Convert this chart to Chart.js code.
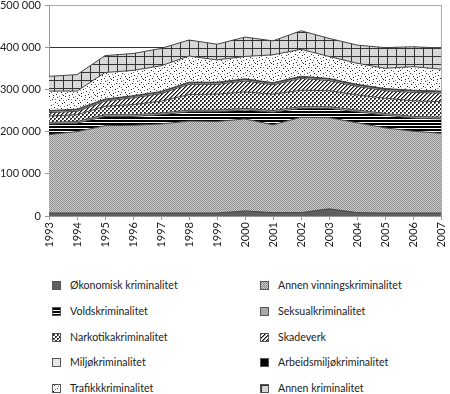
<!DOCTYPE html>
<html>
<head>
<meta charset="utf-8">
<script src="https://cdn.jsdelivr.net/npm/chart.js@4"></script>
<style>
  html, body { margin: 0; padding: 0; background: #fff; }
  #wrap { position: relative; width: 450px; height: 394px; font-family: Lato, sans-serif; }
  #chart { position: absolute; left: 0; top: 0; }
  .item { position: absolute; height: 14px; line-height: 14px; font-size: 10.6px; color: #222; white-space: nowrap; }
  .sw { position: absolute; left: 0; top: 3px; width: 7px; height: 7px; border: 1px solid #555; }
  .txt { position: absolute; left: 18px; top: 0; }
</style>
</head>
<body>
<div id="wrap">
  <canvas id="chart" width="450" height="258"></canvas>
  <div id="legend"></div>
</div>
<script>
// Årstall og verdier (antall lovbrudd)
const years = ['1993', '1994', '1995', '1996', '1997', '1998', '1999', '2000',
               '2001', '2002', '2003', '2004', '2005', '2006', '2007'];

const okonomisk   = [7000, 7000, 7000, 7000, 7000, 7000, 7000, 12000, 8000, 8000, 17000, 8000, 7000, 7000, 7000];
const vinning     = [186000, 193000, 207000, 208000, 211000, 218000, 217000, 218000, 208000, 226000, 216000, 213000, 202000, 194000, 189000];
const vold        = [25000, 20000, 22000, 21000, 22000, 22000, 23000, 21000, 30000, 21000, 22000, 26000, 30000, 31000, 34000];
const seksual     = [4000, 4000, 4000, 4000, 4000, 4000, 4000, 4000, 4000, 4000, 4000, 4000, 4000, 4000, 4000];
const narkotika   = [15000, 16000, 20000, 24000, 28000, 37000, 38000, 39000, 39000, 39000, 38000, 36000, 36000, 37000, 37000];
const skadeverk   = [8000, 8000, 12000, 16000, 18000, 24000, 23000, 26000, 22000, 28000, 24000, 20000, 18000, 20000, 20000];
const miljo       = [3000, 3000, 3000, 3000, 3000, 3000, 3000, 3000, 3000, 3000, 3000, 3000, 3000, 3000, 3000];
const arbeidsmiljo = [2000, 2000, 2000, 2000, 2000, 2000, 2000, 2000, 2000, 2000, 2000, 2000, 2000, 2000, 2000];
const trafikk     = [46000, 43000, 63000, 60000, 61000, 62000, 53000, 53000, 66000, 64000, 52000, 50000, 48000, 56000, 52000];
const annen       = [35000, 39000, 40000, 40000, 41000, 38000, 37000, 46000, 33000, 44000, 43000, 43000, 49000, 47000, 50000];

const yTicks = [0, 100000, 200000, 300000, 400000, 500000];

// Mønstre (gråtoner) for hver serie
function makeTile(w, h, draw) {
    const c = document.createElement('canvas');
    c.width = w; c.height = h;
    const g = c.getContext('2d');
    draw(g);
    return c;
}
function px(g, color, pts) {
    g.fillStyle = color;
    pts.forEach(p => g.fillRect(p[0], p[1], 1, 1));
}

const tiles = {
    okonomisk: makeTile(2, 2, g => { g.fillStyle = '#5f5f5f'; g.fillRect(0, 0, 2, 2); }),
    vinning: makeTile(2, 2, g => {
        g.fillStyle = '#cccccc'; g.fillRect(0, 0, 2, 2);
        px(g, '#8f8f8f', [[0, 0], [1, 1]]);
    }),
    vold: makeTile(3, 3, g => {
        g.fillStyle = '#fff'; g.fillRect(0, 0, 3, 3);
        g.fillStyle = '#000'; g.fillRect(0, 0, 3, 2);
    }),
    seksual: makeTile(2, 2, g => { g.fillStyle = '#a9a9a9'; g.fillRect(0, 0, 2, 2); }),
    narkotika: makeTile(4, 4, g => {
        g.fillStyle = '#fff'; g.fillRect(0, 0, 4, 4);
        g.fillStyle = '#2a2a2a'; g.fillRect(0, 0, 2, 2); g.fillRect(2, 2, 2, 2);
        px(g, '#999', [[1, 1], [3, 3]]);
    }),
    skadeverk: makeTile(4, 4, g => {
        g.fillStyle = '#fff'; g.fillRect(0, 0, 4, 4);
        for (let y = 0; y < 4; y++) {
            px(g, '#111', [[(3 - y + 4) % 4, y]]);
            px(g, '#777', [[(4 - y + 4) % 4, y]]);
        }
    }),
    miljo: makeTile(2, 2, g => { g.fillStyle = '#e8e8e8'; g.fillRect(0, 0, 2, 2); }),
    arbeidsmiljo: makeTile(2, 2, g => { g.fillStyle = '#000'; g.fillRect(0, 0, 2, 2); }),
    trafikk: makeTile(16, 16, g => {
        g.fillStyle = '#fff'; g.fillRect(0, 0, 16, 16);
        px(g, '#222', [[1, 0], [9, 1], [13, 2], [4, 3], [11, 4], [0, 6], [7, 6], [14, 7],
                       [3, 9], [10, 9], [6, 11], [13, 12], [1, 13], [8, 14], [15, 15], [5, 15]]);
        px(g, '#777', [[5, 1], [15, 4], [2, 4], [9, 7], [5, 8], [12, 10], [0, 10],
                       [9, 12], [3, 12], [14, 14], [11, 0], [7, 3]]);
    }),
    annen: makeTile(9, 8, g => {
        g.fillStyle = '#d8d8d8'; g.fillRect(0, 0, 9, 8);
        g.fillStyle = '#333'; g.fillRect(0, 0, 9, 1); g.fillRect(0, 0, 1, 8);
    })
};

const series = [
    ['Økonomisk kriminalitet', okonomisk, 'okonomisk'],
    ['Annen vinningskriminalitet', vinning, 'vinning'],
    ['Voldskriminalitet', vold, 'vold'],
    ['Seksualkriminalitet', seksual, 'seksual'],
    ['Narkotikakriminalitet', narkotika, 'narkotika'],
    ['Skadeverk', skadeverk, 'skadeverk'],
    ['Miljøkriminalitet', miljo, 'miljo'],
    ['Arbeidsmiljøkriminalitet', arbeidsmiljo, 'arbeidsmiljo'],
    ['Trafikkkriminalitet', trafikk, 'trafikk'],
    ['Annen kriminalitet', annen, 'annen']
];

const ctx = document.getElementById('chart').getContext('2d');

const datasets = series.map((s, i) => ({
    label: s[0],
    data: s[1],
    backgroundColor: ctx.createPattern(tiles[s[2]], 'repeat'),
    borderColor: '#444',
    borderWidth: 1,
    fill: i === 0 ? 'origin' : '-1',
    pointRadius: 0,
    tension: 0
}));

const fmt = v => String(v).replace(/\B(?=(\d{3})+(?!\d))/g, ' ');

Chart.defaults.font.family = 'Lato';
Chart.defaults.font.size = 11;
Chart.defaults.color = '#222';

new Chart(ctx, {
    type: 'line',
    data: { labels: years, datasets: datasets },
    options: {
        responsive: false,
        animation: false,
        layout: { padding: { top: 5, right: 9, left: 0, bottom: 0 } },
        plugins: { legend: { display: false }, tooltip: { enabled: false } },
        scales: {
            x: {
                offset: false,
                border: { color: '#999' },
                grid: {
                    color: c => c.index === years.length - 1 ? '#aaa' : 'rgba(0,0,0,0)',
                    tickColor: '#999',
                    tickLength: 4
                },
                ticks: { minRotation: 90, maxRotation: 90, padding: 2, autoSkip: false },
                afterFit: s => { s.height = 42; s.paddingLeft = 0; s.paddingRight = 0; }
            },
            y: {
                stacked: true,
                min: 0,
                max: 500000,
                border: { color: '#999' },
                grid: {
                    color: c => c.tick && c.tick.value === 400000 ? '#333' : '#aaa',
                    tickColor: '#999',
                    tickLength: 4
                },
                afterBuildTicks: s => { s.ticks = yTicks.map(v => ({ value: v })); },
                ticks: { callback: v => fmt(v), padding: 4 },
                afterFit: s => { s.width = 49; s.paddingTop = 0; s.paddingBottom = 0; }
            }
        }
    }
});

// Forklaring i to kolonner
const legend = document.getElementById('legend');
const rowY = [285, 311, 336.5, 362, 387.5];
series.forEach((s, i) => {
    const col = i % 2, row = Math.floor(i / 2);
    const el = document.createElement('div');
    el.className = 'item';
    el.style.left = (col === 0 ? 52 : 260) + 'px';
    el.style.top = (rowY[row] - 7) + 'px';
    const sw = document.createElement('span');
    sw.className = 'sw';
    sw.style.backgroundImage = 'url(' + tiles[s[2]].toDataURL() + ')';
    const t = document.createElement('span');
    t.className = 'txt';
    t.textContent = s[0];
    el.appendChild(sw);
    el.appendChild(t);
    legend.appendChild(el);
});
</script>
</body>
</html>
